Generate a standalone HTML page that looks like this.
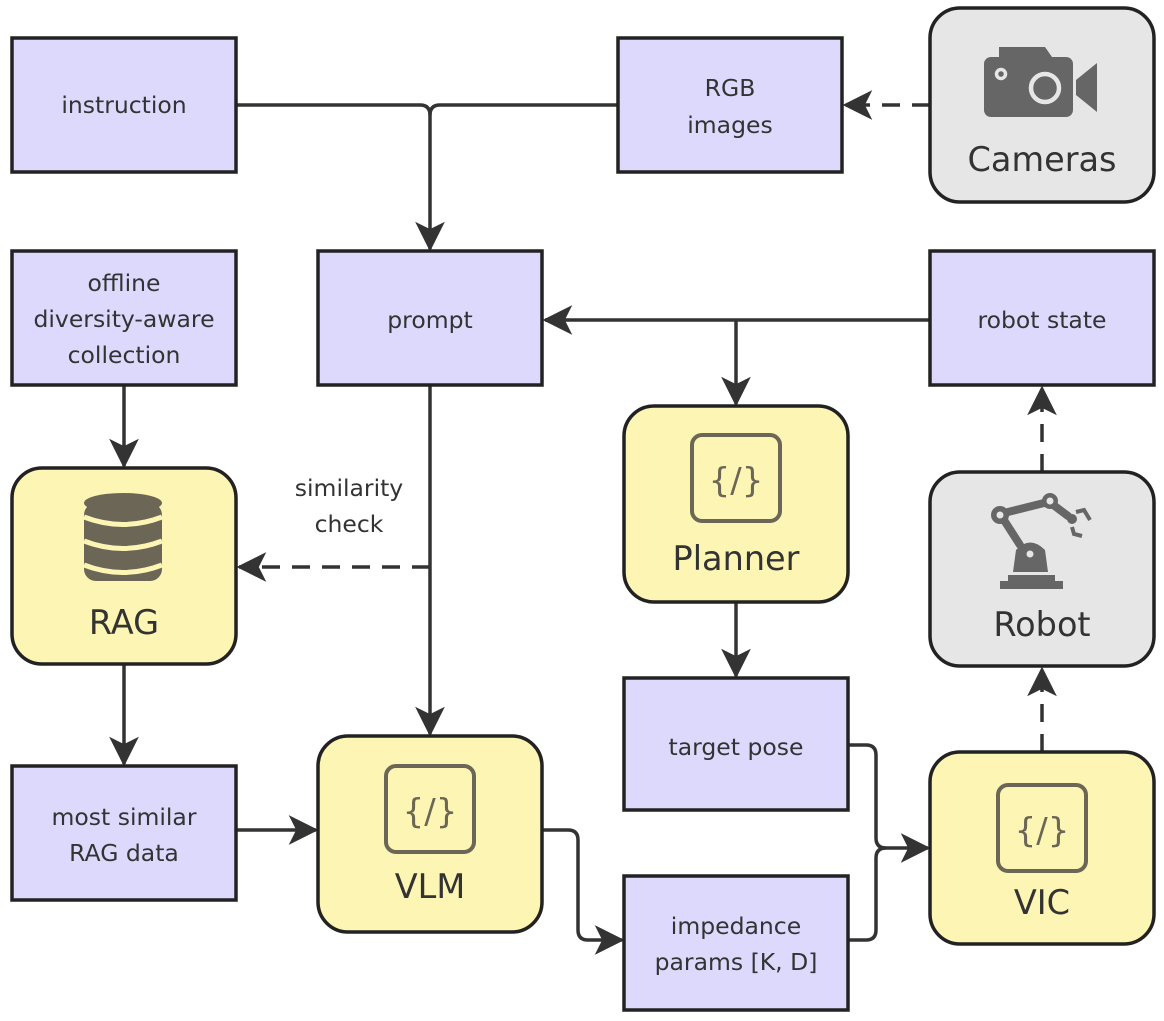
<!DOCTYPE html>
<html><head><meta charset="utf-8"><style>
body{margin:0;background:#fff}
svg{display:block}
text{font-family:"DejaVu Sans","Liberation Sans",sans-serif;fill:#333}
.b{fill:#dcd9fd;stroke:#222;stroke-width:3.5}
.y{fill:#fdf5b4;stroke:#222;stroke-width:3.5}
.g{fill:#e6e6e6;stroke:#222;stroke-width:3.5}
.l{fill:none;stroke:#333;stroke-width:3.5}
.d{fill:none;stroke:#333;stroke-width:3.5;stroke-dasharray:18 12}
.t{font-size:23.5px;text-anchor:middle}
.T{font-size:33.5px;text-anchor:middle}
.ic{fill:none;stroke:#6b6656;stroke-width:4}
.rb{stroke:#666;stroke-width:8;stroke-linecap:round;fill:none}
</style></head><body>
<svg width="1164" height="1021" viewBox="0 0 1164 1021" xmlns="http://www.w3.org/2000/svg">
<defs>
<marker id="a" viewBox="0 0 12 12" refX="11" refY="6" markerWidth="8.5" markerHeight="8.5" markerUnits="strokeWidth" orient="auto">
<path d="M0,0 L12,6 L0,12 L3,6 z" fill="#333"/>
</marker>
</defs>
<path class="l" d="M236,105 H420 Q430,105 430,115 V249" marker-end="url(#a)"/>
<path class="l" d="M618,105 H440 Q430,105 430,115"/>
<path class="l" d="M930,320 H545" marker-end="url(#a)"/>
<path class="l" d="M736,320 V404" marker-end="url(#a)"/>
<path class="l" d="M124,385 V466" marker-end="url(#a)"/>
<path class="l" d="M430,385 V734" marker-end="url(#a)"/>
<path class="d" d="M430,567 H239" marker-end="url(#a)"/>
<path class="l" d="M124,664 V764" marker-end="url(#a)"/>
<path class="l" d="M236,830 H316" marker-end="url(#a)"/>
<path class="l" d="M542,830 H568 Q578,830 578,840 V930 Q578,940 588,940 H622" marker-end="url(#a)"/>
<path class="l" d="M736,602 V676" marker-end="url(#a)"/>
<path class="l" d="M848,745 H866 Q876,745 876,755 V838 Q876,848 886,848 H928" marker-end="url(#a)"/>
<path class="l" d="M848,940 H866 Q876,940 876,930 V858 Q876,848 886,848"/>
<path class="d" d="M1042,752 V669" marker-end="url(#a)"/>
<path class="d" d="M1042,472 V388" marker-end="url(#a)"/>
<path class="d" d="M930,105 H845" marker-end="url(#a)"/>
<text class="t" x="349" y="496">similarity</text>
<text class="t" x="349" y="532">check</text>
<rect class="b" x="12" y="38" width="224" height="134"/><text class="t" x="124" y="113">instruction</text>
<rect class="b" x="618" y="38" width="224" height="134"/><text class="t" x="730" y="96">RGB</text><text class="t" x="730" y="133">images</text>
<rect class="g" x="930" y="8" width="224" height="194" rx="30"/>
<g fill="#666"><path d="M999,47 h46 l7,10 h-53z"/><rect x="984" y="57" width="89" height="60" rx="7"/><path d="M1076,80 l21,-17 v49 l-21,-17z"/></g>
<circle cx="1045" cy="88" r="14" fill="none" stroke="#e6e6e6" stroke-width="4.5"/><circle cx="1001" cy="74" r="4.5" fill="none" stroke="#e6e6e6" stroke-width="3.5"/>
<text class="T" x="1042" y="171">Cameras</text>
<rect class="b" x="12" y="251" width="224" height="134"/><text class="t" x="124" y="291">offline</text><text class="t" x="124" y="327">diversity-aware</text><text class="t" x="124" y="363">collection</text>
<rect class="b" x="318" y="251" width="224" height="134"/><text class="t" x="430" y="328">prompt</text>
<rect class="b" x="930" y="251" width="224" height="134"/><text class="t" x="1042" y="328">robot state</text>
<rect class="y" x="12" y="468" width="224" height="196" rx="30"/>
<g fill="#6b6656"><ellipse cx="123" cy="503" rx="39" ry="10"/><rect x="84" y="503" width="78" height="78" rx="12"/></g>
<g stroke="#fdf5b4" stroke-width="5" fill="none"><path d="M84,517 Q123,532 162,517"/><path d="M84,541 Q123,556 162,541"/><path d="M84,565 Q123,580 162,565"/></g>
<text class="T" x="124" y="634">RAG</text>
<rect class="y" x="624" y="406" width="224" height="196" rx="30"/>
<rect class="ic" x="692" y="435" width="88" height="86" rx="10"/><text x="736" y="492" text-anchor="middle" font-size="34" style="fill:#6b6656">{/}</text>
<text class="T" x="736" y="570">Planner</text>
<rect class="g" x="930" y="472" width="224" height="194" rx="30"/>
<g fill="#666"><path d="M1013,572 L1016,550 Q1030,535 1045,550 L1048,572z"/><rect x="1008" y="575" width="47" height="6"/><rect x="1000" y="581" width="63" height="8"/></g>
<path class="rb" d="M1020,545 L1002,517"/><path class="rb" d="M1004,513 L1048,502"/><path class="rb" d="M1052,504 L1068,516"/>
<g fill="#666"><circle cx="1000" cy="515" r="9"/><circle cx="1050" cy="501" r="8"/><circle cx="1072" cy="519" r="5"/></g>
<path d="M1076,512 l8,-2 l6,10 M1072,527 l2,7 l8,2" stroke="#666" stroke-width="4" fill="none"/>
<circle cx="1000" cy="515" r="3.5" fill="#e6e6e6"/><circle cx="1050" cy="501" r="3.5" fill="#e6e6e6"/><circle cx="1030" cy="554" r="3.5" fill="#e6e6e6"/>
<text class="T" x="1042" y="636">Robot</text>
<rect class="b" x="624" y="678" width="224" height="132"/><text class="t" x="736" y="755">target pose</text>
<rect class="b" x="12" y="766" width="224" height="134"/><text class="t" x="124" y="825">most similar</text><text class="t" x="124" y="861">RAG data</text>
<rect class="y" x="318" y="736" width="224" height="196" rx="30"/>
<rect class="ic" x="386" y="766" width="88" height="86" rx="10"/><text x="430" y="823" text-anchor="middle" font-size="34" style="fill:#6b6656">{/}</text>
<text class="T" x="430" y="898">VLM</text>
<rect class="b" x="624" y="876" width="224" height="134"/><text class="t" x="736" y="934">impedance</text><text class="t" x="736" y="970">params [K, D]</text>
<rect class="y" x="930" y="752" width="224" height="192" rx="30"/>
<rect class="ic" x="998" y="785" width="88" height="86" rx="10"/><text x="1042" y="842" text-anchor="middle" font-size="34" style="fill:#6b6656">{/}</text>
<text class="T" x="1042" y="914">VIC</text>
</svg>
</body></html>
